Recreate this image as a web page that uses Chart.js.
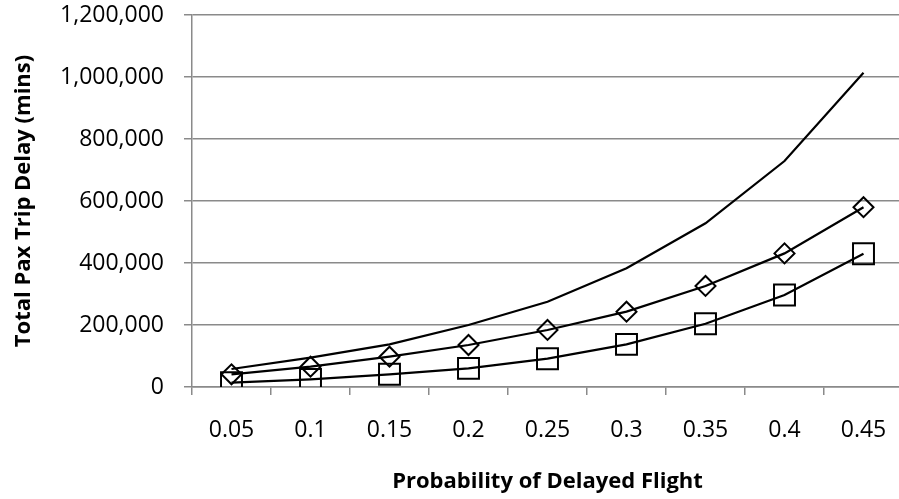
<!DOCTYPE html>
<html>
<head>
<meta charset="utf-8">
<script src="https://cdn.jsdelivr.net/npm/chart.js@4/dist/chart.umd.min.js"></script>
<style>
  html, body { margin: 0; padding: 0; background: #fff; overflow: hidden; }
  canvas { display: block; }
</style>
</head>
<body>
<canvas id="c" width="904" height="499"></canvas>
<script>
// Probability that a flight is delayed (x categories)
const probabilities = ['0.05', '0.1', '0.15', '0.2', '0.25', '0.3', '0.35', '0.4', '0.45'];

// Total passenger trip delay, minutes
const delayUpper   = [58000, 94500, 137700, 200000, 275000, 383000, 528000, 729000, 1014000];
const delayDiamond = [41000, 65500, 97800, 135500, 184000, 243000, 326000, 431000, 580000];
const delaySquare  = [14000, 24700, 41000, 60000, 91400, 137600, 204000, 297000, 430000];

const yTickMax = 1200000;
const yTickStep = 200000;

const gridGrey = '#8a8a8a';
const tickFont = { family: '"Open Sans", sans-serif', size: 23 };
const titleFont = { family: '"Open Sans", sans-serif', size: 22, weight: 'bold' };

new Chart(document.getElementById('c'), {
  type: 'line',
  data: {
    labels: probabilities,
    datasets: [
      {
        data: delayUpper,
        borderColor: '#000',
        borderWidth: 2.2,
        pointRadius: 0,
        tension: 0
      },
      {
        data: delayDiamond,
        borderColor: '#000',
        borderWidth: 2.2,
        pointStyle: 'rectRot',
        pointRadius: 10,
        pointBorderWidth: 2,
        pointBorderColor: '#000',
        pointBackgroundColor: 'rgba(0,0,0,0)',
        tension: 0
      },
      {
        data: delaySquare,
        borderColor: '#000',
        borderWidth: 2.2,
        pointStyle: 'rect',
        pointRadius: 14.8,
        pointBorderWidth: 2,
        pointBorderColor: '#000',
        pointBackgroundColor: 'rgba(0,0,0,0)',
        tension: 0
      }
    ]
  },
  options: {
    responsive: false,
    devicePixelRatio: 1,
    animation: false,
    layout: { autoPadding: false, padding: { top: 15, right: 1, bottom: 0, left: 0 } },
    plugins: {
      legend: { display: false },
      tooltip: { enabled: false }
    },
    scales: {
      x: {
        type: 'category',
        offset: true,
        afterFit: (s) => { s.height = 112; s.paddingLeft = 0; s.paddingRight = 0; },
        grid: {
          offset: true,
          drawOnChartArea: false,
          drawTicks: true,
          tickLength: 8,
          color: gridGrey,
          lineWidth: 1.5
        },
        border: { display: true, color: gridGrey, width: 1.5 },
        ticks: {
          color: '#000',
          font: tickFont,
          padding: 22,
          autoSkip: false,
          maxRotation: 0
        },
        title: {
          display: true,
          text: 'Probability of Delayed Flight',
          color: '#000',
          font: titleFont,
          padding: { top: 0, bottom: 4 }
        }
      },
      y: {
        min: 0,
        max: yTickMax,
        afterFit: (s) => { s.width = 192; s.paddingTop = 0; s.paddingBottom = 0; },
        grid: {
          color: gridGrey,
          lineWidth: 1.5,
          drawTicks: true,
          tickLength: 8
        },
        border: { display: true, color: gridGrey, width: 1.5 },
        ticks: {
          stepSize: yTickStep,
          color: '#000',
          font: tickFont,
          padding: 20,
          callback: (v) => v.toLocaleString('en-US')
        },
        title: {
          display: true,
          text: 'Total Pax Trip Delay (mins)',
          color: '#000',
          font: titleFont,
          padding: { top: 11, bottom: 0 }
        }
      }
    }
  }
});
</script>
</body>
</html>
